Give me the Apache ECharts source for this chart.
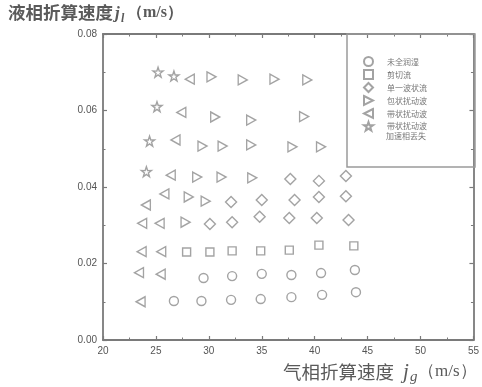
<!DOCTYPE html>
<html>
<head>
<meta charset="utf-8">
<script src="https://cdn.jsdelivr.net/npm/echarts@6/dist/echarts.min.js"></script>
<style>
  html, body { margin: 0; padding: 0; background: #fff; }
  #chart { width: 482px; height: 387px; }
</style>
</head>
<body>
<div id="chart"></div>
<script>
// Flow regime map: gas superficial velocity j_g vs liquid superficial velocity j_l
const seriesNames = ['未全润湿', '剪切流', '单一波状流', '包状扰动波', '带状扰动波', '带状扰动波'];
const extraLegendLine = '加速相丢失';

const xTicks = [20, 25, 30, 35, 40, 45, 50, 55];
const yTicks = [0.00, 0.02, 0.04, 0.06, 0.08];

// [j_g (m/s), j_l (m/s)]
const notWetted = [
  [26.7, 0.0102], [29.3, 0.0102], [32.1, 0.0105], [34.9, 0.0107], [37.8, 0.0112], [40.7, 0.0118], [43.9, 0.0125],
  [29.5, 0.0162], [32.2, 0.0167], [35.0, 0.0173], [37.8, 0.0170], [40.6, 0.0175], [43.8, 0.0183]
];
const shearFlow = [
  [27.9, 0.0230], [30.1, 0.0230], [32.2, 0.0233], [34.9, 0.0233], [37.6, 0.0235], [40.4, 0.0248], [43.7, 0.0246]
];
const singleWave = [
  [37.7, 0.0421], [40.4, 0.0416], [42.95, 0.0429],
  [32.1, 0.0361], [35.0, 0.0366], [38.1, 0.0366], [40.4, 0.0374], [42.95, 0.0376],
  [30.1, 0.0303], [32.2, 0.0308], [34.8, 0.0322], [37.6, 0.0319], [40.2, 0.0319], [43.2, 0.0314]
];
const lumpWave = [
  [30.25, 0.0688], [33.2, 0.0680], [36.2, 0.0682], [39.3, 0.0680],
  [30.6, 0.0583], [34.0, 0.0575], [39.0, 0.0584],
  [29.4, 0.0507], [31.3, 0.0507], [34.0, 0.0510], [37.9, 0.0505], [40.6, 0.0505],
  [28.9, 0.0426], [31.2, 0.0426], [34.1, 0.0424],
  [28.1, 0.0374], [29.7, 0.0363],
  [27.8, 0.0308]
];
const bandWave = [
  [28.2, 0.0682], [27.4, 0.0595], [26.85, 0.0523], [26.4, 0.0431], [25.8, 0.0382],
  [24.05, 0.0353], [23.7, 0.0305], [25.35, 0.0305], [23.65, 0.0231], [25.5, 0.0231],
  [23.4, 0.0176], [25.45, 0.0172], [23.55, 0.0100]
];
const bandWaveLost = [
  [25.2, 0.0700], [26.7, 0.0690], [25.1, 0.0610], [24.4, 0.0520], [24.1, 0.0440]
];

const markColor = '#8c8c8c';
const axisColor = '#7a7a7a';
const textColor = '#555';

const triRight = 'path://M0,0L10,5L0,10Z';
const triLeft = 'path://M10,0L0,5L10,10Z';
const star = 'path://M50,0L61.8,35.1L97.6,34.5L68.9,56.1L79.4,90.5L50,69.8L20.6,90.5L31.1,56.1L2.4,34.5L38.2,35.1Z';

function scatter(name, data, symbol, size) {
  return {
    name: name,
    type: 'scatter',
    data: data,
    symbol: symbol,
    symbolSize: size,
    itemStyle: { color: '#fff', borderColor: markColor, borderWidth: 1.4 },
    emphasis: { disabled: true },
    z: 3
  };
}

function valueAxis(extra) {
  return Object.assign({
    type: 'value',
    axisLine: { show: true, onZero: false, lineStyle: { color: axisColor, width: 1.8 } },
    axisTick: { show: true, inside: true, length: 4, lineStyle: { color: axisColor, width: 1.2 } },
    minorTick: { show: true, splitNumber: 2, length: 2.5, lineStyle: { color: axisColor, width: 1 } },
    splitLine: { show: false }
  }, extra);
}

const chart = echarts.init(document.getElementById('chart'), null, { renderer: 'canvas' });

const gridBox = { left: 103, right: 7, top: 34, bottom: 47 };
const axisFont = 'Liberation Sans, Arial, sans-serif';
const cjkFont = '"Noto Sans CJK SC", sans-serif';
const serifFont = '"Liberation Serif", serif';
const titleColor = '#5a5a5a';

const xMin = xTicks[0], xMax = xTicks[xTicks.length - 1];
const yMin = yTicks[0], yMax = yTicks[yTicks.length - 1];

chart.setOption({
  animation: false,
  backgroundColor: '#fff',
  grid: Object.assign({ containLabel: false }, gridBox),
  xAxis: [
    valueAxis({ min: xMin, max: xMax, interval: 5,
      axisLabel: { color: textColor, fontSize: 10, fontFamily: axisFont, margin: 6 } }),
    valueAxis({ position: 'top', min: xMin, max: xMax, interval: 5, axisLabel: { show: false } })
  ],
  yAxis: [
    valueAxis({ min: yMin, max: yMax, interval: 0.02,
      axisLabel: { color: textColor, fontSize: 10, fontFamily: axisFont, margin: 6,
        formatter: v => v.toFixed(2) } }),
    valueAxis({ position: 'right', min: yMin, max: yMax, interval: 0.02, axisLabel: { show: false } })
  ],
  legend: {
    orient: 'vertical',
    left: 358, top: 51,
    itemWidth: 9, itemHeight: 9, itemGap: 2,
    selectedMode: false,
    textStyle: { color: '#777', fontSize: 8, fontFamily: cjkFont, padding: [0, 0, 0, 9] },
    data: seriesNames.map((n, i) => (i === 5 ? n + ' ' : n))
  },
  series: [
    scatter(seriesNames[0], notWetted, 'circle', 9),
    scatter(seriesNames[1], shearFlow, 'rect', 8),
    scatter(seriesNames[2], singleWave, 'diamond', 11),
    scatter(seriesNames[3], lumpWave, triRight, [9, 10]),
    scatter(seriesNames[4], bandWave, triLeft, [9, 10]),
    scatter(seriesNames[5] + ' ', bandWaveLost, star, 10)
  ],
  graphic: [
    // legend frame
    { type: 'rect', shape: { x: 347, y: 34, width: 128, height: 133 },
      style: { fill: 'none', stroke: '#9a9a9a', lineWidth: 1.5 }, z: 1 },
    { type: 'text', left: 386, top: 132,
      style: { text: extraLegendLine, fill: '#777', fontSize: 8, fontFamily: cjkFont }, z: 5 },
    // y-axis title
    { type: 'text', left: 8, top: 4,
      style: { text: '液相折算速度', fill: titleColor, fontSize: 17.5, fontWeight: 'bold', fontFamily: cjkFont } },
    { type: 'text', left: 115, top: 5,
      style: { text: 'j', fill: titleColor, fontSize: 17, fontStyle: 'italic', fontWeight: 'bold', fontFamily: serifFont } },
    { type: 'text', left: 121, top: 13,
      style: { text: 'l', fill: titleColor, fontSize: 12, fontStyle: 'italic', fontWeight: 'bold', fontFamily: serifFont } },
    { type: 'text', left: 127, top: 5,
      style: { text: '（m/s）', fill: titleColor, fontSize: 16, fontWeight: 'bold', fontFamily: serifFont } },
    // x-axis title
    { type: 'text', left: 283, top: 363,
      style: { text: '气相折算速度', fill: titleColor, fontSize: 18.5, fontFamily: cjkFont } },
    { type: 'text', left: 403, top: 362,
      style: { text: 'j', fill: titleColor, fontSize: 21, fontStyle: 'italic', fontFamily: serifFont } },
    { type: 'text', left: 410, top: 370,
      style: { text: 'g', fill: titleColor, fontSize: 15, fontStyle: 'italic', fontFamily: serifFont } },
    { type: 'text', left: 418, top: 363,
      style: { text: '（m/s）', fill: titleColor, fontSize: 17, fontFamily: serifFont } }
  ]
});
</script>
</body>
</html>
